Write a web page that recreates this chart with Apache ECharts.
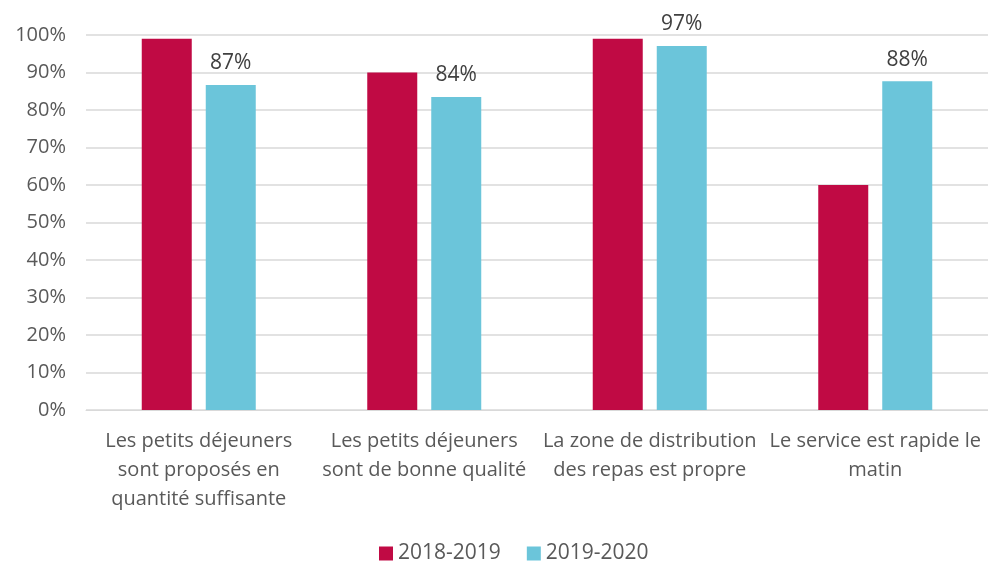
<!DOCTYPE html>
<html>
<head>
<meta charset="utf-8">
<script src="https://cdn.jsdelivr.net/npm/echarts@6/dist/echarts.min.js"></script>
<style>
  html, body { margin: 0; padding: 0; background: #fff; }
  #main { width: 988px; height: 562px; }
</style>
</head>
<body>
<div id="main"></div>
<script>
var categories = [
  'Les petits déjeuners\nsont proposés en\nquantité suffisante',
  'Les petits déjeuners\nsont de bonne qualité',
  'La zone de distribution\ndes repas est propre',
  'Le service est rapide le\nmatin'
];
var seriesNames = ['2018-2019', '2019-2020'];
var values2018 = [99, 90, 99, 60];
var values2019 = [86.7, 83.5, 97.1, 87.7];
var yTicks = [0, 10, 20, 30, 40, 50, 60, 70, 80, 90, 100];

var font = '"Open Sans", "Noto Sans", sans-serif';
var chart = echarts.init(document.getElementById('main'));
var option = {
  animation: false,
  textStyle: { fontFamily: font },
  grid: { left: 86, right: 0, top: 35, bottom: 152 },
  legend: {
    bottom: -7,
    left: 374,
    itemWidth: 14,
    itemHeight: 14,
    itemGap: 26,
    icon: 'rect',
    textStyle: { fontSize: 21, color: '#595959', fontFamily: font },
    data: seriesNames
  },
  xAxis: {
    type: 'category',
    data: categories,
    axisTick: { show: false },
    axisLine: { lineStyle: { color: '#D9D9D9' } },
    axisLabel: {
      interval: 0,
      margin: 17,
      fontSize: 20,
      lineHeight: 29,
      color: '#595959',
      fontFamily: font
    }
  },
  yAxis: {
    type: 'value',
    min: yTicks[0],
    max: yTicks[yTicks.length - 1],
    interval: 10,
    axisLine: { show: false },
    axisTick: { show: false },
    splitLine: { lineStyle: { color: '#D9D9D9', width: 1.5 } },
    axisLabel: {
      margin: 20,
      fontSize: 20,
      color: '#595959',
      fontFamily: font,
      formatter: '{value}%'
    }
  },
  series: [
    {
      name: seriesNames[0],
      type: 'bar',
      data: values2018,
      barWidth: 50,
      barGap: '28%',
      itemStyle: { color: '#C00A44' }
    },
    {
      name: seriesNames[1],
      type: 'bar',
      data: values2019,
      barWidth: 50,
      itemStyle: { color: '#6BC5DA' },
      label: {
        show: true,
        position: 'top',
        distance: 11,
        fontSize: 21,
        color: '#404040',
        fontFamily: font,
        formatter: function (p) { return Math.round(p.value) + '%'; }
      }
    }
  ]
};
chart.setOption(option);
</script>
</body>
</html>
